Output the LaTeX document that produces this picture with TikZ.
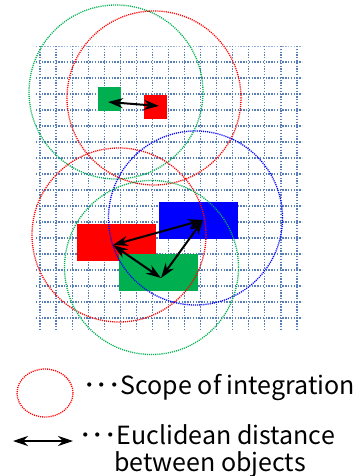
\documentclass[tikz,border=0pt]{standalone}
\usepackage{fontspec}
\setmainfont{Noto Sans CJK JP}
\usetikzlibrary{arrows.meta}
\definecolor{gridc}{RGB}{88,126,184}
\definecolor{ogreen}{RGB}{0,176,80}
\begin{document}
\begin{tikzpicture}[x=1bp,y=-1bp,
  gridh/.style={gridc, line width=1.3bp, dash pattern=on 1.3bp off 1.5bp},
  gridv/.style={gridc, line width=1.2bp, dash pattern=on 1.3bp off 1.5bp},
  intscope/.style={line width=1.3bp, dash pattern=on 1.1bp off 1.0bp},
  obj/.style={draw=none, inner sep=0, outer sep=0, anchor=north west},
  dist/.style={line width=2bp, {Stealth[length=15bp,width=10bp]}-{Stealth[length=15bp,width=10bp]}},
  lbl/.style={anchor=base west, inner sep=0, font=\fontsize{25bp}{28bp}\selectfont}]
\useasboundingbox (0,0) rectangle (360,476);
% grid
\draw[gridc!60, line width=0.8bp, dash pattern=on 1.3bp off 1.5bp] (36,46) -- (302,46);
\foreach \k in {1,...,17} \draw[gridh] (36,46+16*\k) -- (302,46+16*\k);
\foreach \k in {0,...,16} \draw[gridv] (40+16.06*\k,46) -- (40+16.06*\k,330);
% objects
\node[obj, fill=ogreen, minimum width=23bp, minimum height=24bp] (g1) at (98,87) {};
\node[obj, fill=red, minimum width=23bp, minimum height=24bp] (r1) at (144,95) {};
\node[obj, fill=red, minimum width=79bp, minimum height=37bp] (r2) at (77,224) {};
\node[obj, fill=blue, minimum width=79bp, minimum height=37bp] (b2) at (159,202) {};
\node[obj, fill=ogreen, minimum width=79bp, minimum height=37bp] (g2) at (119,254) {};
% scopes of integration
\draw[intscope, ogreen] (116,92) circle[radius=87bp];
\draw[intscope, red] (154,98) circle[radius=87bp];
\draw[intscope, red] (119,235) circle[radius=87bp];
\draw[intscope, blue] (195.5,218) circle[radius=87bp];
\draw[intscope, ogreen] (151.5,267.5) circle[radius=87bp];
% distances
\coordinate (a1) at (108,102);
\coordinate (a2) at (159,106);
\coordinate (pa) at (113,245);
\coordinate (pb) at (203,220);
\coordinate (pc) at (161,278);
\draw[dist] (a1) -- (a2);
\draw[dist] (pa) -- (pb);
\draw[dist] (pa) -- (pc);
\draw[dist] (pb) -- (pc);
% legend
\draw[intscope, red] (45,393) ellipse[x radius=28bp, y radius=24bp];
\node[lbl] (t1) at (83,394) {･･･Scope of integration};
\coordinate (l1) at (13,441);
\coordinate (l2) at (73,441);
\draw[dist] (l1) -- (l2);
\node[lbl] (t2) at (79,444) {･･･Euclidean distance};
\node[lbl] (t3) at (114,471) {between objects};
\end{tikzpicture}
\end{document}
